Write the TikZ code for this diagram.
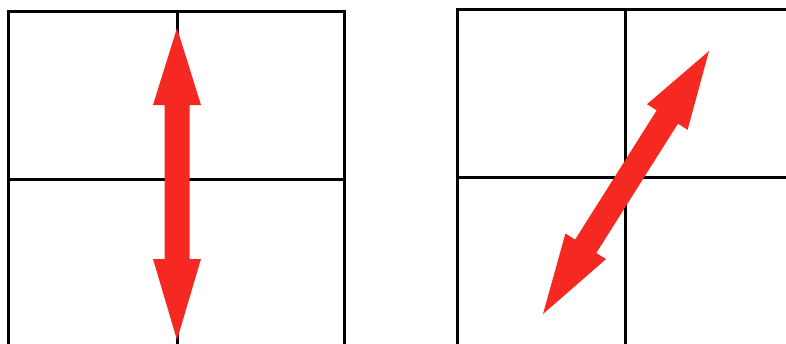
\documentclass[tikz,border=0pt]{standalone}
\begin{document}
\begin{tikzpicture}[x=1pt,y=-1pt]
\definecolor{arrowred}{RGB}{246,40,34}
\tikzset{gridline/.style={draw=black,line width=3pt},
  bigarrow/.style={fill=arrowred,draw=none}}
\useasboundingbox (0,0) rectangle (786,343);
\clip (0,0) rectangle (786,343);
% left grid
\draw[gridline] (8.5,360) -- (8.5,11) -- (344,11) -- (344,360);
\draw[gridline] (177,11) -- (177,360);
\draw[gridline] (8.5,179) -- (344,179);
% right grid
\draw[gridline] (457,360) -- (457,9.5) -- (800,9.5);
\draw[gridline] (625,9.5) -- (625,360);
\draw[gridline] (457,177) -- (800,177);
% left double arrow
\fill[bigarrow] (177,28) -- (201,105) -- (189.5,105) -- (189.5,259) -- (201,259) -- (177,340)
  -- (153,259) -- (164.5,259) -- (164.5,105) -- (153,105) -- cycle;
% right double arrow
\fill[bigarrow] (709,51) -- (687.6,129.8) -- (677.9,123.7) -- (596.3,253.0) -- (606.0,259.1) -- (543,314)
  -- (565.4,233.5) -- (575.1,239.6) -- (656.7,110.3) -- (647.0,104.2) -- cycle;
\end{tikzpicture}
\end{document}
